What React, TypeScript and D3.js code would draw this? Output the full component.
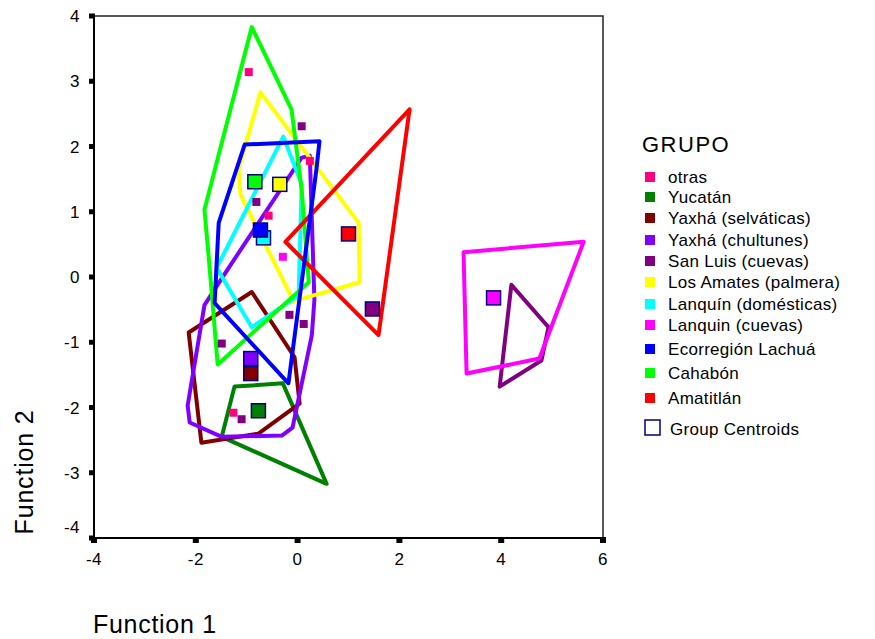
import React from "react";
import * as d3 from "d3";

const groups = [
  "otras",
  "Yucatán",
  "Yaxhá (selváticas)",
  "Yaxhá (chultunes)",
  "San Luis (cuevas)",
  "Los Amates (palmera)",
  "Lanquín (domésticas)",
  "Lanquin (cuevas)",
  "Ecorregión Lachuá",
  "Cahabón",
  "Amatitlán",
];
const colors = [
  "#FF0080", "#008000", "#800000", "#8000FF", "#800080", "#FFFF00",
  "#00FFFF", "#FF00FF", "#0000FF", "#00FF00", "#FF0000",
];

// Convex hulls (territorial outlines), Function 1 / Function 2
const hullYucatan: [number, number][] = [[-1.24, -1.68], [-0.29, -1.63], [0.57, -3.17], [-1.49, -2.45]];
const hullYaxhaSelv: [number, number][] = [[-0.9, -0.23], [-0.06, -1.23], [0.04, -1.94], [-0.77, -2.4], [-1.89, -2.54], [-2.14, -0.85]];
const hullYaxhaChult: [number, number][] = [[0.08, 1.83], [0.24, 1.86], [0.31, 0.14], [0.33, -0.35], [0.28, -0.89], [-0.1, -2.31], [-0.31, -2.43], [-1.49, -2.45], [-2.12, -2.23], [-2.16, -1.97], [-1.83, -0.43], [-1.49, -0.02]];
const hullSanLuis: [number, number][] = [[4.2, -0.12], [4.93, -0.77], [4.79, -1.28], [3.97, -1.68]];
const hullAmates: [number, number][] = [[-0.73, 2.83], [1.2, 0.83], [1.22, -0.08], [-0.08, -0.37], [-1.12, 1.26], [-1.16, 1.65]];
const hullLanquinDom: [number, number][] = [[-0.28, 2.15], [0.08, 1.42], [0.02, -0.28], [-0.9, -0.77], [-1.59, 0.14]];
const hullLanquinCuevas: [number, number][] = [[3.26, 0.38], [5.62, 0.54], [4.75, -1.25], [3.32, -1.48]];
const hullLachua: [number, number][] = [[-1.04, 2.03], [0.43, 2.08], [0.37, 1.65], [-0.18, -1.63], [-1.63, -0.4], [-1.55, 0.83]];
const hullCahabon: [number, number][] = [[-0.9, 3.83], [-0.12, 2.57], [0.08, 1.34], [0.22, -0.08], [-1.57, -1.34], [-1.75, 0.34], [-1.83, 1.03]];
const hullAmatitlan: [number, number][] = [[2.2, 2.57], [1.59, -0.89], [-0.24, 0.54]];

// Individual cases
const pointsOtras: [number, number][] = [[-0.96, 3.14], [0.24, 1.78], [-0.57, 0.94], [-1.26, -2.08]];
const pointsSanLuis: [number, number][] = [[0.08, 2.31], [-0.81, 1.15], [-0.16, -0.58], [0.12, -0.72], [-1.49, -1.02], [-1.1, -2.18]];
const pointsLanquinCuevas: [number, number][] = [[-0.29, 0.31]];

// Group centroids: [groupIndex, f1, f2]
const centroids: [number, number, number][] = [
  [1, -0.77, -2.05],
  [2, -0.92, -1.48],
  [3, -0.92, -1.25],
  [4, 1.47, -0.49],
  [5, -0.35, 1.42],
  [6, -0.67, 0.6],
  [7, 3.85, -0.32],
  [8, -0.73, 0.72],
  [9, -0.84, 1.46],
  [10, 1.0, 0.66],
];

const xTicks = [-4, -2, 0, 2, 4, 6];
const yTicks = [-4, -3, -2, -1, 0, 1, 2, 3, 4];

const hulls: [number, [number, number][]][] = [
  [1, hullYucatan],
  [2, hullYaxhaSelv],
  [3, hullYaxhaChult],
  [4, hullSanLuis],
  [5, hullAmates],
  [6, hullLanquinDom],
  [7, hullLanquinCuevas],
  [9, hullCahabon],
  [10, hullAmatitlan],
  [8, hullLachua],
];

const pointSets: [number, [number, number][]][] = [
  [0, pointsOtras],
  [4, pointsSanLuis],
  [7, pointsLanquinCuevas],
];

const legendY = [177, 197, 218, 240, 261, 282, 304, 325, 349, 373, 398];

export default function App() {
  const x = d3.scaleLinear().domain([-4, 6]).range([94, 603]);
  const y = d3.scaleLinear().domain([-4, 4]).range([538, 16]);
  const line = d3
    .line<[number, number]>()
    .x((d) => x(d[0]))
    .y((d) => y(d[1]))
    .curve(d3.curveLinearClosed);
  const font = "'Liberation Sans', Arial, sans-serif";
  return (
    <svg
      width={875}
      height={639}
      style={{ position: "absolute", left: 0, top: 0, background: "#fff" }}
      fontFamily={font}
    >
      <rect width={875} height={639} fill="#fff" />
      {hulls.map(([g, pts], i) => (
        <path
          key={"h" + i}
          d={line(pts) || ""}
          fill="none"
          stroke={colors[g]}
          strokeWidth={4}
          strokeLinejoin="round"
        />
      ))}
      {pointSets.map(([g, pts]) =>
        pts.map((p, j) => (
          <rect
            key={"p" + g + "-" + j}
            x={x(p[0]) - 4}
            y={y(p[1]) - 4}
            width={8}
            height={8}
            fill={colors[g]}
          />
        ))
      )}
      {centroids.map(([g, a, b]) => (
        <rect
          key={"c" + g}
          x={x(a) - 7}
          y={y(b) - 7}
          width={14}
          height={14}
          fill={colors[g]}
          stroke="#000080"
          strokeWidth={1.5}
        />
      ))}
      {/* frame */}
      <rect x={94} y={16} width={509} height={522} fill="none" stroke="#222" strokeWidth={1.5} />
      <line x1={94} y1={16} x2={94} y2={538} stroke="#000" strokeWidth={2} />
      <line x1={94} y1={538} x2={603} y2={538} stroke="#000" strokeWidth={2} />
      {yTicks.map((t) => (
        <g key={"yt" + t}>
          <rect x={89} y={y(t) - 2.5} width={6} height={5} fill="#000" />
          <text
            x={80}
            y={Math.min(y(t) + 6, 533)}
            textAnchor="end"
            fontSize={17}
            letterSpacing={0.5}
            fill="#000"
          >
            {t}
          </text>
        </g>
      ))}
      {xTicks.map((t) => (
        <g key={"xt" + t}>
          <rect x={x(t) - 3} y={537} width={6} height={6} fill="#000" />
          <text x={x(t)} y={565} textAnchor="middle" fontSize={17} letterSpacing={0.5} fill="#000">
            {t}
          </text>
        </g>
      ))}
      <text
        transform="translate(33,472) rotate(-90)"
        textAnchor="middle"
        fontSize={25}
        letterSpacing={0.8}
        fill="#000"
      >
        Function 2
      </text>
      <text x={93} y={633} fontSize={25} letterSpacing={0.7} fill="#000">
        Function 1
      </text>
      {/* legend */}
      <text x={642} y={152} fontSize={22} letterSpacing={1.5} fill="#000">
        GRUPO
      </text>
      {groups.map((g, i) => (
        <g key={"l" + i}>
          <rect x={645} y={legendY[i] - 5} width={10} height={10} fill={colors[i]} />
          <text x={668} y={legendY[i] + 6} fontSize={17} letterSpacing={0.3} fill="#000">
            {g}
          </text>
        </g>
      ))}
      <rect x={645} y={420} width={15} height={15} fill="none" stroke="#000080" strokeWidth={1.5} />
      <text x={670} y={435} fontSize={17} letterSpacing={0.3} fill="#000">
        Group Centroids
      </text>
    </svg>
  );
}
